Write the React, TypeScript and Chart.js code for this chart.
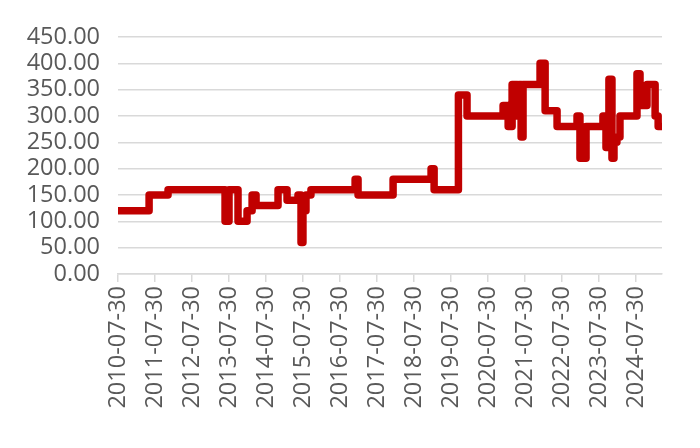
import React, { useEffect, useRef } from "react";
import { Chart, registerables } from "chart.js";

Chart.register(...registerables);

const changeDates: string[] = [
  "2010-07-30", "2011-06-02", "2011-12-06", "2013-06-21", "2013-07-30", "2013-10-27",
  "2014-01-24", "2014-03-15", "2014-04-23", "2014-11-26", "2015-02-23", "2015-06-11",
  "2015-07-11", "2015-07-30", "2015-08-29", "2015-10-17", "2016-12-26", "2017-01-24",
  "2018-01-05", "2019-01-15", "2019-02-14", "2019-10-12", "2020-01-05", "2020-12-26",
  "2021-02-14", "2021-03-25", "2021-05-14", "2021-06-02", "2021-06-22", "2021-07-11",
  "2021-12-26", "2022-02-14", "2022-06-12", "2022-12-26", "2023-01-24", "2023-03-25",
  "2023-09-08", "2023-10-08", "2023-11-06", "2023-12-06", "2023-12-26", "2024-01-24",
  "2024-02-23", "2024-08-09", "2024-09-08", "2024-11-16", "2025-02-04", "2025-03-06",
  "2025-04-13",
];

const changeValues: number[] = [
  120, 150, 160, 100, 160, 100,
  120, 150, 130, 160, 140, 150,
  60, 120, 150, 160, 180, 150,
  180, 200, 160, 340, 300, 320,
  280, 360, 300, 360, 260, 360,
  400, 310, 280, 300, 220, 280,
  300, 240, 370, 220, 250, 260,
  300, 380, 320, 360, 300, 280,
  280,
];

const tickLabels: string[] = [
  "2010-07-30", "2011-07-30", "2012-07-30", "2013-07-30", "2014-07-30",
  "2015-07-30", "2016-07-30", "2017-07-30", "2018-07-30", "2019-07-30",
  "2020-07-30", "2021-07-30", "2022-07-30", "2023-07-30", "2024-07-30",
];

const yTicks: number[] = [0, 50, 100, 150, 200, 250, 300, 350, 400, 450];

const ts = (s: string) => Date.parse(s + "T00:00:00Z");
const fmt = (v: number) => {
  const d = new Date(v);
  const m = String(d.getUTCMonth() + 1).padStart(2, "0");
  const dd = String(d.getUTCDate()).padStart(2, "0");
  return `${d.getUTCFullYear()}-${m}-${dd}`;
};

export default function App() {
  const ref = useRef<HTMLCanvasElement | null>(null);

  useEffect(() => {
    document.body.style.margin = "0";
    const canvas = ref.current;
    if (!canvas) return;
    const points = changeDates.map((d, i) => ({ x: ts(d), y: changeValues[i] }));
    const font = { family: "'Open Sans', 'Noto Sans', sans-serif", size: 23.5 };
    const chart = new Chart(canvas, {
      type: "line",
      data: {
        datasets: [
          {
            data: points,
            borderColor: "#C00000",
            borderWidth: 7.5,
            stepped: "before",
            pointRadius: 0,
            fill: false,
            borderJoinStyle: "round",
            borderCapStyle: "round",
          },
        ],
      },
      options: {
        responsive: false,
        animation: false,
        layout: { padding: { top: 37, right: 38, left: 0, bottom: 0 } },
        plugins: { legend: { display: false }, tooltip: { enabled: false } },
        scales: {
          x: {
            type: "linear",
            min: ts(changeDates[0]),
            max: ts(changeDates[changeDates.length - 1]),
            afterBuildTicks: (axis: any) => {
              axis.ticks = tickLabels.map((t) => ({ value: ts(t) }));
            },
            afterFit: (axis: any) => {
              axis.height = 174;
            },
            ticks: {
              autoSkip: false,
              maxRotation: 90,
              minRotation: 90,
              color: "#595959",
              font,
              padding: 4,
              callback: (v: any) => fmt(Number(v)),
            },
            grid: {
              display: true,
              drawOnChartArea: false,
              drawTicks: true,
              tickLength: 8,
              color: "#D9D9D9",
              lineWidth: 1.5,
            },
            border: { display: true, color: "#D9D9D9", width: 1.5 },
          },
          y: {
            min: 0,
            max: 450,
            afterBuildTicks: (axis: any) => {
              axis.ticks = yTicks.map((v) => ({ value: v }));
            },
            afterFit: (axis: any) => {
              axis.width = 118;
            },
            ticks: {
              autoSkip: false,
              color: "#595959",
              font,
              padding: 18,
              callback: (v: any) => Number(v).toFixed(2),
            },
            grid: { color: "#D9D9D9", lineWidth: 1.5, drawTicks: false },
            border: { display: false },
          },
        },
      },
    } as any);
    return () => chart.destroy();
  }, []);

  return <canvas ref={ref} width={700} height={448} style={{ display: "block", width: 700, height: 448 }} />;
}
